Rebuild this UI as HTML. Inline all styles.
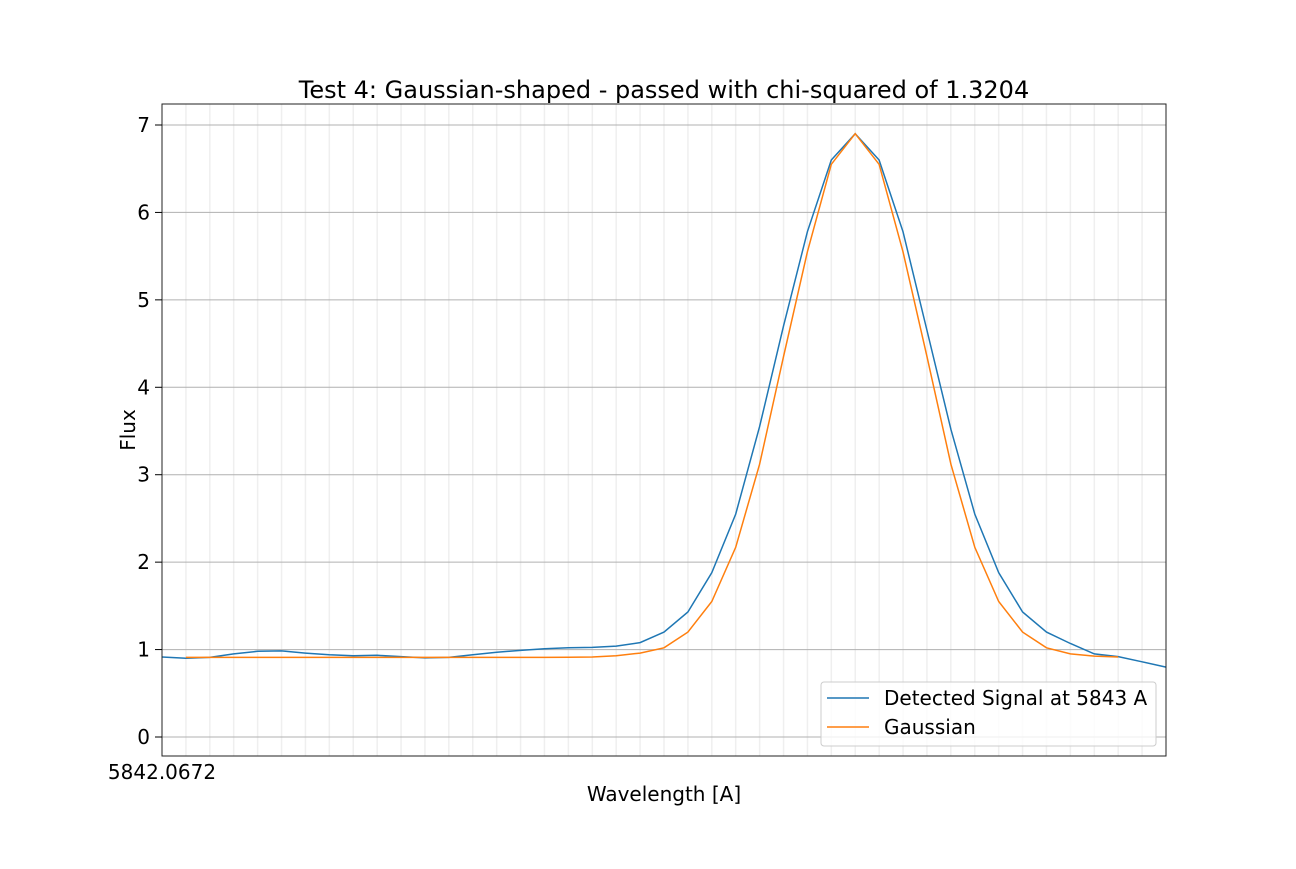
<!DOCTYPE html>
<html><head><meta charset="utf-8"><style>
body{margin:0;background:#fff;}
svg text{font-family:"DejaVu Sans","Liberation Sans",sans-serif;fill:#000;}
</style></head><body>
<svg id="chart" width="1296" height="864" xmlns="http://www.w3.org/2000/svg">
<rect width="1296" height="864" fill="#fff"/>
<g id="grid"></g>
<g id="series"></g>
<rect x="162" y="104" width="1004" height="652" fill="none" stroke="#222" stroke-width="1"/>
<g id="yticks"></g>
<text x="664" y="98" font-size="24" text-anchor="middle">Test 4: Gaussian-shaped - passed with chi-squared of 1.3204</text>
<text x="162" y="779" font-size="20" text-anchor="middle">5842.0672</text>
<text x="664" y="801" font-size="20" text-anchor="middle">Wavelength [A]</text>
<text x="135" y="430" font-size="20" text-anchor="middle" transform="rotate(-90 135 430)">Flux</text>
<g>
<rect x="821" y="682" width="335" height="64" rx="3" fill="#fff" fill-opacity="0.8" stroke="#ccc"/>
<line x1="827" y1="698" x2="869" y2="698" stroke="#1f77b4" stroke-width="1.5"/>
<text x="884" y="705" font-size="20">Detected Signal at 5843 A</text>
<line x1="827" y1="727" x2="869" y2="727" stroke="#ff7f0e" stroke-width="1.5"/>
<text x="884" y="734" font-size="20">Gaussian</text>
</g>
</svg>
<script>
const signal=[0.915,0.9,0.91,0.95,0.98,0.985,0.96,0.94,0.93,0.935,0.92,0.905,0.91,0.94,0.97,0.99,1.01,1.02,1.025,1.04,1.08,1.2,1.43,1.88,2.55,3.55,4.7,5.78,6.6,6.9,6.6,5.78,4.65,3.52,2.55,1.88,1.43,1.2,1.07,0.95,0.92,0.86,0.8];
const gaussian=[null,0.91,0.91,0.91,0.91,0.91,0.91,0.91,0.91,0.91,0.91,0.91,0.91,0.91,0.91,0.91,0.91,0.912,0.915,0.93,0.96,1.02,1.2,1.55,2.17,3.12,4.35,5.55,6.55,6.9,6.55,5.55,4.35,3.12,2.17,1.55,1.2,1.02,0.95,0.925,0.915,null,null];
const yTicks=[0,1,2,3,4,5,6,7];
const X0=162,X1=1166,NPTS=42;
const xs=i=>X0+(X1-X0)*i/NPTS;
const ys=v=>737-v*(737-125)/7;
const NS="http://www.w3.org/2000/svg";
const grid=document.getElementById('grid'),yt=document.getElementById('yticks'),ser=document.getElementById('series');
for(let i=1;i<NPTS;i++){
  const l=document.createElementNS(NS,'line');
  
  
  l.setAttribute('x1',xs(i));l.setAttribute('x2',xs(i));l.setAttribute('y1',104);l.setAttribute('y2',756);
  l.setAttribute('stroke','#efefef');l.setAttribute('stroke-width','1.5');grid.appendChild(l);
}
yTicks.forEach(v=>{
  const l=document.createElementNS(NS,'line');
  
  
  l.setAttribute('x1',162);l.setAttribute('x2',1166);l.setAttribute('y1',ys(v));l.setAttribute('y2',ys(v));
  l.setAttribute('stroke','#b0b0b0');l.setAttribute('stroke-width','1');grid.appendChild(l);
  const t=document.createElementNS(NS,'line');
  
  
  t.setAttribute('x1',155);t.setAttribute('x2',162);t.setAttribute('y1',ys(v));t.setAttribute('y2',ys(v));
  t.setAttribute('stroke','#000');yt.appendChild(t);
  const tx=document.createElementNS(NS,'text');
  
  
  tx.setAttribute('x',150);tx.setAttribute('y',ys(v)+7);tx.setAttribute('font-size','20');tx.setAttribute('text-anchor','end');
  tx.textContent=v;yt.appendChild(tx);
});
function draw(arr,color,name){
  const pts=[];arr.forEach((v,i)=>{if(v!==null)pts.push(xs(i).toFixed(1)+','+ys(v).toFixed(1));});
  const p=document.createElementNS(NS,'polyline');
  
  
  p.setAttribute('points',pts.join(' '));p.setAttribute('fill','none');p.setAttribute('stroke',color);p.setAttribute('stroke-width','1.5');
  ser.appendChild(p);
}
draw(signal,'#1f77b4','signal-line');
draw(gaussian,'#ff7f0e','gaussian-line');
</script>
</body></html>
